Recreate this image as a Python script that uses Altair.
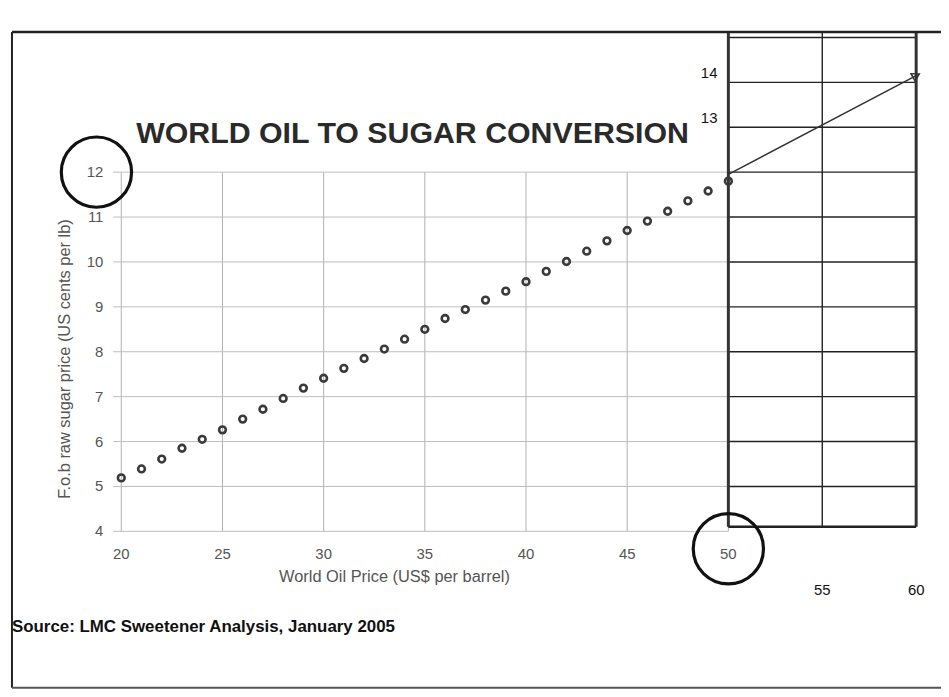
import altair as alt
import pandas as pd

# ---- data ----
oil_price = list(range(20, 51))
sugar_price = [5.19, 5.39, 5.61, 5.85, 6.05, 6.26, 6.50, 6.72, 6.96, 7.19,
               7.41, 7.63, 7.85, 8.06, 8.28, 8.50, 8.74, 8.94, 9.15, 9.35,
               9.56, 9.79, 10.01, 10.24, 10.47, 10.70, 10.91, 11.13, 11.36,
               11.58, 11.80]
x_ticks = [20, 25, 30, 35, 40, 45, 50]
y_ticks = [4, 5, 6, 7, 8, 9, 10, 11, 12]
ext_x_ticks = [55, 60]
ext_y_ticks = [13, 14]
ext_grid_y = [5, 6, 7, 8, 9, 10, 11, 12, 13, 14, 15]
arrow_x = [50, 60]
arrow_y = [11.95, 14.15]

FONT = "Liberation Sans"
W, H = 930, 660

xs = alt.Scale(domain=[20, 50, 60], range=[110, 721, 910], zero=False, nice=False)
ys = alt.Scale(domain=[4, 12], range=[502.5, 141], zero=False, nice=False)

def X(f="x"):
    return alt.X(f"{f}:Q", scale=xs, axis=None)

def Y(f="y"):
    return alt.Y(f"{f}:Q", scale=ys, axis=None)

pts = pd.DataFrame({"x": oil_price, "y": sugar_price})
vgrid = pd.DataFrame({"x": x_ticks, "y": [4] * len(x_ticks), "y2": [12] * len(x_ticks)})
hgrid = pd.DataFrame({"y": y_ticks, "x": [19.6] * len(y_ticks), "x2": [50] * len(y_ticks)})
ext_h = pd.DataFrame({"y": ext_grid_y, "x": [50] * len(ext_grid_y), "x2": [60] * len(ext_grid_y)})
ext_v = pd.DataFrame({"x": [55], "y": [4.1], "y2": [15.12]})
ext_edges = pd.DataFrame({"x": [50, 60], "y": [4.1, 4.1], "y2": [15.12, 15.12]})
ext_bottom = pd.DataFrame({"x": [50], "x2": [60], "y": [4.1]})
xlab = pd.DataFrame({"x": x_ticks, "t": [str(v) for v in x_ticks]})
ylab = pd.DataFrame({"y": y_ticks, "t": [str(v) for v in y_ticks]})
ext_xlab = pd.DataFrame({"x": ext_x_ticks, "t": [str(v) for v in ext_x_ticks]})
ext_ylab = pd.DataFrame({"y": ext_y_ticks, "t": [str(v) for v in ext_y_ticks]})
arrow = pd.DataFrame({"x": arrow_x, "y": arrow_y})
one = pd.DataFrame({"a": [0]})

layers = []
# main grid
layers.append(alt.Chart(vgrid).mark_rule(color="#b0b0b0", strokeWidth=1).encode(x=X(), y=Y(), y2="y2:Q"))
layers.append(alt.Chart(hgrid).mark_rule(color="#bdbdbd", strokeWidth=1).encode(x=X(), x2="x2:Q", y=Y()))
# extension box grid
layers.append(alt.Chart(ext_h).mark_rule(color="#222", strokeWidth=1.4).encode(x=X(), x2="x2:Q", y=Y()))
layers.append(alt.Chart(ext_v).mark_rule(color="#222", strokeWidth=1.4).encode(x=X(), y=Y(), y2="y2:Q"))
layers.append(alt.Chart(ext_edges).mark_rule(color="#333", strokeWidth=3).encode(x=X(), y=Y(), y2="y2:Q"))
layers.append(alt.Chart(ext_bottom).mark_rule(color="#222", strokeWidth=2.5).encode(x=X(), x2="x2:Q", y=Y()))
# arrow
layers.append(alt.Chart(arrow).mark_line(color="#333", strokeWidth=1.5).encode(x=X(), y=Y()))
layers.append(alt.Chart(arrow.iloc[[1]]).mark_point(shape="triangle-right", filled=False, size=70, opacity=1,
                                                     angle=331, color="#333", strokeWidth=1.5).encode(x=X(), y=Y()))
# points
layers.append(alt.Chart(pts).mark_point(shape="circle", filled=False, size=46, strokeWidth=2.6,
                                        color="#3a3a3a", opacity=1).encode(x=X(), y=Y()))
# tick labels
layers.append(alt.Chart(xlab).mark_text(font=FONT, fontSize=15, color="#555", baseline="middle").encode(
    x=X(), y=alt.value(525), text="t:N"))
layers.append(alt.Chart(ylab).mark_text(font=FONT, fontSize=15, color="#555", align="right", baseline="middle").encode(
    x=alt.value(92), y=Y(), text="t:N"))
layers.append(alt.Chart(ext_xlab).mark_text(font=FONT, fontSize=15, color="#111", baseline="middle").encode(
    x=X(), y=alt.value(562), text="t:N"))
layers.append(alt.Chart(ext_ylab).mark_text(font=FONT, fontSize=15, color="#111", align="right", baseline="middle", dy=-9).encode(
    x=alt.value(710), y=Y(), text="t:N"))
# titles
layers.append(alt.Chart(one).mark_text(font=FONT, fontSize=30.5, fontWeight="bold", color="#2a2a2a",
                                       align="left", baseline="middle", text="WORLD OIL TO SUGAR CONVERSION").encode(
    x=alt.value(125), y=alt.value(103)))
layers.append(alt.Chart(one).mark_text(font=FONT, fontSize=16.5, color="#555", angle=270, baseline="middle",
                                       text="F.o.b raw sugar price (US cents per lb)").encode(
    x=alt.value(53), y=alt.value(329)))
layers.append(alt.Chart(one).mark_text(font=FONT, fontSize=16.5, color="#555", baseline="middle",
                                       text="World Oil Price (US$ per barrel)").encode(
    x=alt.value(385), y=alt.value(548)))
layers.append(alt.Chart(one).mark_text(font=FONT, fontSize=17, fontWeight="bold", color="#111",
                                       align="left", baseline="middle",
                                       text="Source: LMC Sweetener Analysis, January 2005").encode(
    x=alt.value(0), y=alt.value(599)))
# hand-drawn circles
layers.append(alt.Chart(one).mark_point(shape="circle", filled=False, size=5000, strokeWidth=3.2,
                                        color="#111", opacity=1).encode(
    x=alt.value(85), y=alt.value(141)))
layers.append(alt.Chart(one).mark_point(shape="circle", filled=False, size=5000, strokeWidth=3.2,
                                        color="#111", opacity=1).encode(
    x=alt.value(721), y=alt.value(520)))
# page frame
layers.append(alt.Chart(one).mark_rule(color="#222", strokeWidth=2).encode(
    x=alt.value(0), y=alt.value(0), y2=alt.value(H)))
layers.append(alt.Chart(one).mark_rule(color="#222", strokeWidth=2.5).encode(
    x=alt.value(0), x2=alt.value(935), y=alt.value(0)))
layers.append(alt.Chart(one).mark_rule(color="#555", strokeWidth=2).encode(
    x=alt.value(0), x2=alt.value(935), y=alt.value(H)))

chart = alt.layer(*layers).properties(
    width=W, height=H,
    padding={"left": 4, "top": 22, "right": 5, "bottom": 5},
    autosize=alt.AutoSizeParams(type="none"),
    background="white",
).configure_view(strokeWidth=0)

chart.save("out.html", embed_options={"renderer": "svg", "actions": False})
